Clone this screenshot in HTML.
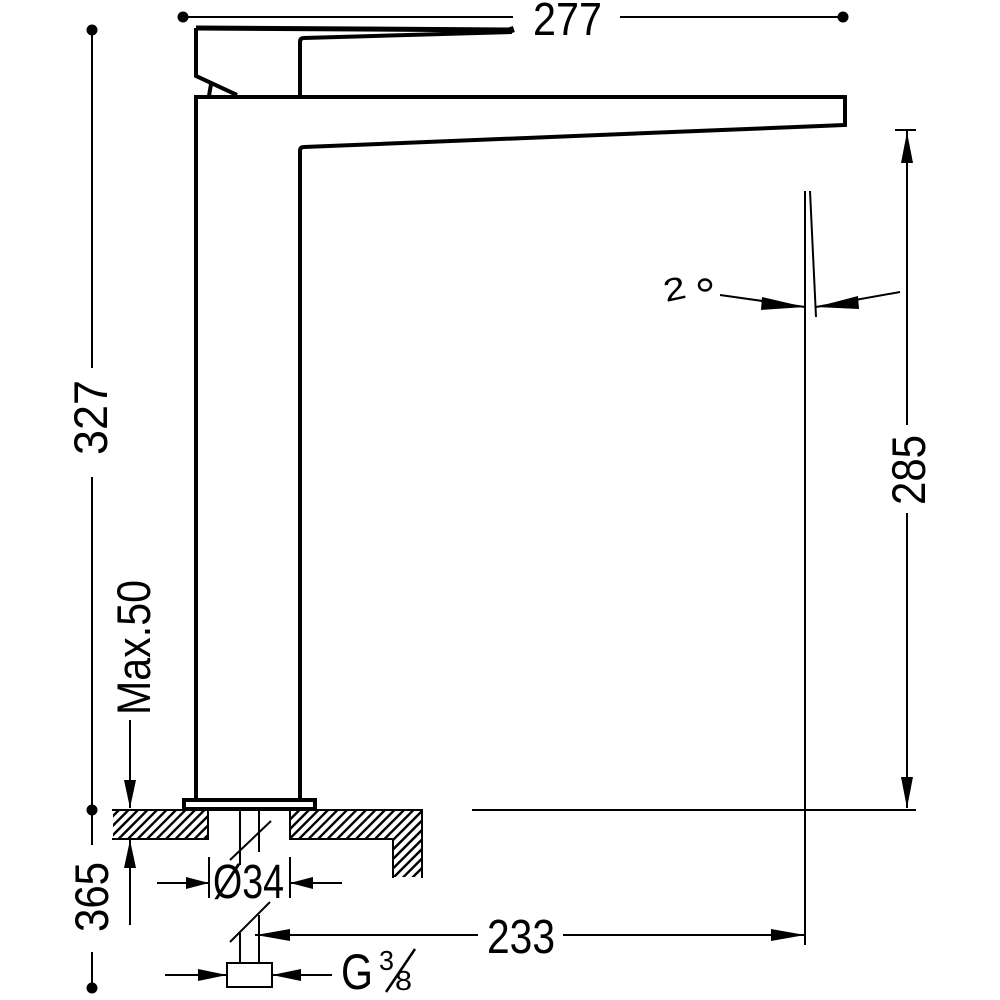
<!DOCTYPE html>
<html><head><meta charset="utf-8"><style>
html,body{margin:0;padding:0;background:#fff;}
svg{display:block;}
text{font-family:"Liberation Sans",sans-serif;fill:#000;}
</style></head><body>
<svg width="1000" height="1000" viewBox="0 0 1000 1000" xmlns="http://www.w3.org/2000/svg">
<defs>
<clipPath id="c">
<rect x="113" y="811" width="94" height="27"/>
<path d="M291 811 L421 811 L421 877 L394 877 L394 838 L291 838 Z"/>
</clipPath>
</defs>
<g fill="none" stroke="#000" stroke-linecap="butt">
<line x1="183" y1="17" x2="513" y2="17" stroke-width="2"/>
<line x1="620" y1="17" x2="843" y2="17" stroke-width="2"/>
<path d="M196 28 L512 30" stroke-width="5"/>
<path d="M510 27 L512 33" stroke-width="6"/>
<path d="M196 28 L196 76 L237 95" stroke-width="4"/>
<path d="M211 84 L209 96" stroke-width="4"/>
<path d="M300 96 L300 42 Q300 38 304 38 L512 32" stroke-width="4"/>
<path d="M196 800 L196 97 L845 97 L845 125 L304 147 Q300 147 300 151 L300 800" stroke-width="4"/>
<rect x="184" y="800" width="131" height="9" stroke-width="4"/>
<path d="M112 839 L208 839 L208 810 M112 810 L208 810" stroke-width="2"/>
<path d="M290 810 L422 810 L422 878 M290 810 L290 839 L393 839 L393 878" stroke-width="2"/>
<line x1="240" y1="810" x2="240" y2="865" stroke-width="2"/>
<line x1="259" y1="810" x2="259" y2="852" stroke-width="2"/>
<line x1="230" y1="860" x2="271" y2="821" stroke-width="2"/>
<line x1="240" y1="933" x2="240" y2="963" stroke-width="2"/>
<line x1="259" y1="915" x2="259" y2="963" stroke-width="2"/>
<line x1="230" y1="942" x2="270" y2="902" stroke-width="2"/>
<rect x="227" y="963" width="45" height="24" stroke-width="2"/>
<line x1="209" y1="857" x2="209" y2="898" stroke-width="2"/>
<line x1="290" y1="857" x2="290" y2="898" stroke-width="2"/>
<line x1="157" y1="883" x2="209" y2="883" stroke-width="2"/>
<line x1="290" y1="883" x2="342" y2="883" stroke-width="2"/>
<line x1="255" y1="935" x2="478" y2="935" stroke-width="2"/>
<line x1="563" y1="935" x2="805" y2="935" stroke-width="2"/>
<line x1="165" y1="975" x2="227" y2="975" stroke-width="2"/>
<line x1="272" y1="975" x2="332" y2="975" stroke-width="2"/>
<line x1="92" y1="30" x2="92" y2="368" stroke-width="2"/>
<line x1="92" y1="477" x2="92" y2="810" stroke-width="2"/>
<line x1="92" y1="810" x2="92" y2="845" stroke-width="2"/>
<line x1="92" y1="952" x2="92" y2="988" stroke-width="2"/>
<line x1="130" y1="720" x2="130" y2="808" stroke-width="2"/>
<line x1="130" y1="840" x2="130" y2="925" stroke-width="2"/>
<line x1="472" y1="810" x2="916" y2="810" stroke-width="2"/>
<line x1="895" y1="130" x2="916" y2="130" stroke-width="2"/>
<line x1="907" y1="130" x2="907" y2="425" stroke-width="2"/>
<line x1="907" y1="513" x2="907" y2="808" stroke-width="2"/>
<line x1="805" y1="191" x2="805" y2="945" stroke-width="2"/>
<line x1="810" y1="191" x2="816" y2="317" stroke-width="2"/>
<line x1="720" y1="295" x2="805" y2="307" stroke-width="2"/>
<line x1="900" y1="292" x2="816" y2="307" stroke-width="2"/>
</g>
<g clip-path="url(#c)" stroke="#000" stroke-width="2.4">
<line x1="30" y1="880" x2="110" y2="800"/><line x1="39.5" y1="880" x2="119.5" y2="800"/><line x1="49" y1="880" x2="129" y2="800"/><line x1="58.5" y1="880" x2="138.5" y2="800"/><line x1="68" y1="880" x2="148" y2="800"/><line x1="77.5" y1="880" x2="157.5" y2="800"/><line x1="87" y1="880" x2="167" y2="800"/><line x1="96.5" y1="880" x2="176.5" y2="800"/><line x1="106" y1="880" x2="186" y2="800"/><line x1="115.5" y1="880" x2="195.5" y2="800"/><line x1="125" y1="880" x2="205" y2="800"/><line x1="134.5" y1="880" x2="214.5" y2="800"/><line x1="144" y1="880" x2="224" y2="800"/><line x1="153.5" y1="880" x2="233.5" y2="800"/><line x1="163" y1="880" x2="243" y2="800"/><line x1="172.5" y1="880" x2="252.5" y2="800"/>
<line x1="220" y1="880" x2="300" y2="800"/><line x1="229.5" y1="880" x2="309.5" y2="800"/><line x1="239" y1="880" x2="319" y2="800"/><line x1="248.5" y1="880" x2="328.5" y2="800"/><line x1="258" y1="880" x2="338" y2="800"/><line x1="267.5" y1="880" x2="347.5" y2="800"/><line x1="277" y1="880" x2="357" y2="800"/><line x1="286.5" y1="880" x2="366.5" y2="800"/><line x1="296" y1="880" x2="376" y2="800"/><line x1="305.5" y1="880" x2="385.5" y2="800"/><line x1="315" y1="880" x2="395" y2="800"/><line x1="324.5" y1="880" x2="404.5" y2="800"/><line x1="334" y1="880" x2="414" y2="800"/><line x1="343.5" y1="880" x2="423.5" y2="800"/><line x1="353" y1="880" x2="433" y2="800"/><line x1="362.5" y1="880" x2="442.5" y2="800"/><line x1="372" y1="880" x2="452" y2="800"/><line x1="381.5" y1="880" x2="461.5" y2="800"/><line x1="391" y1="880" x2="471" y2="800"/><line x1="400.5" y1="880" x2="480.5" y2="800"/><line x1="410" y1="880" x2="490" y2="800"/><line x1="419.5" y1="880" x2="499.5" y2="800"/>
</g>
<g fill="#000">
<circle cx="183" cy="17" r="5.5"/><circle cx="843" cy="17" r="5.5"/>
<circle cx="92" cy="30" r="5.5"/><circle cx="92" cy="810" r="5.5"/><circle cx="92" cy="988" r="5.5"/>
<polygon points="209,883 186,877 186,889"/>
<polygon points="290,883 313,877 313,889"/>
<polygon points="256,935 290,929 290,941"/>
<polygon points="805,935 771,929 771,941"/>
<polygon points="227,975 198,969 198,981"/>
<polygon points="272,975 301,969 301,981"/>
<polygon points="130,808 124,780 136,780"/>
<polygon points="130,840 124,868 136,868"/>
<polygon points="907,132 901,163 913,163"/>
<polygon points="907,808 901,777 913,777"/>
<polygon points="805,307 762,297 761,310"/>
<polygon points="816,307 858,296 859,309"/>
</g>
<text x="533" y="35" font-size="46" textLength="69" lengthAdjust="spacingAndGlyphs">277</text>
<text x="487" y="953" font-size="48" textLength="68" lengthAdjust="spacingAndGlyphs">233</text>
<text x="213" y="898" font-size="48" textLength="71" lengthAdjust="spacingAndGlyphs">Ø34</text>
<text x="341" y="989" font-size="50" textLength="32" lengthAdjust="spacingAndGlyphs">G</text>
<text x="379" y="970" font-size="28" textLength="15" lengthAdjust="spacingAndGlyphs">3</text>
<line x1="415" y1="949" x2="386" y2="992" stroke="#000" stroke-width="2.5"/>
<text x="395" y="990" font-size="28" textLength="17" lengthAdjust="spacingAndGlyphs">8</text>
<text transform="translate(107,455) rotate(-90)" font-size="47" textLength="75" lengthAdjust="spacingAndGlyphs">327</text>
<text transform="translate(150,715) rotate(-90)" font-size="47" textLength="135" lengthAdjust="spacingAndGlyphs">Max.50</text>
<text transform="translate(108,932) rotate(-90)" font-size="47" textLength="70" lengthAdjust="spacingAndGlyphs">365</text>
<text transform="translate(925,505) rotate(-90)" font-size="47" textLength="70" lengthAdjust="spacingAndGlyphs">285</text>
<text transform="translate(666,302) rotate(-12)" font-size="32" textLength="22" lengthAdjust="spacingAndGlyphs">2</text>
<ellipse cx="705" cy="285" rx="6" ry="5.5" fill="none" stroke="#000" stroke-width="2.5"/>
</svg>
</body></html>
